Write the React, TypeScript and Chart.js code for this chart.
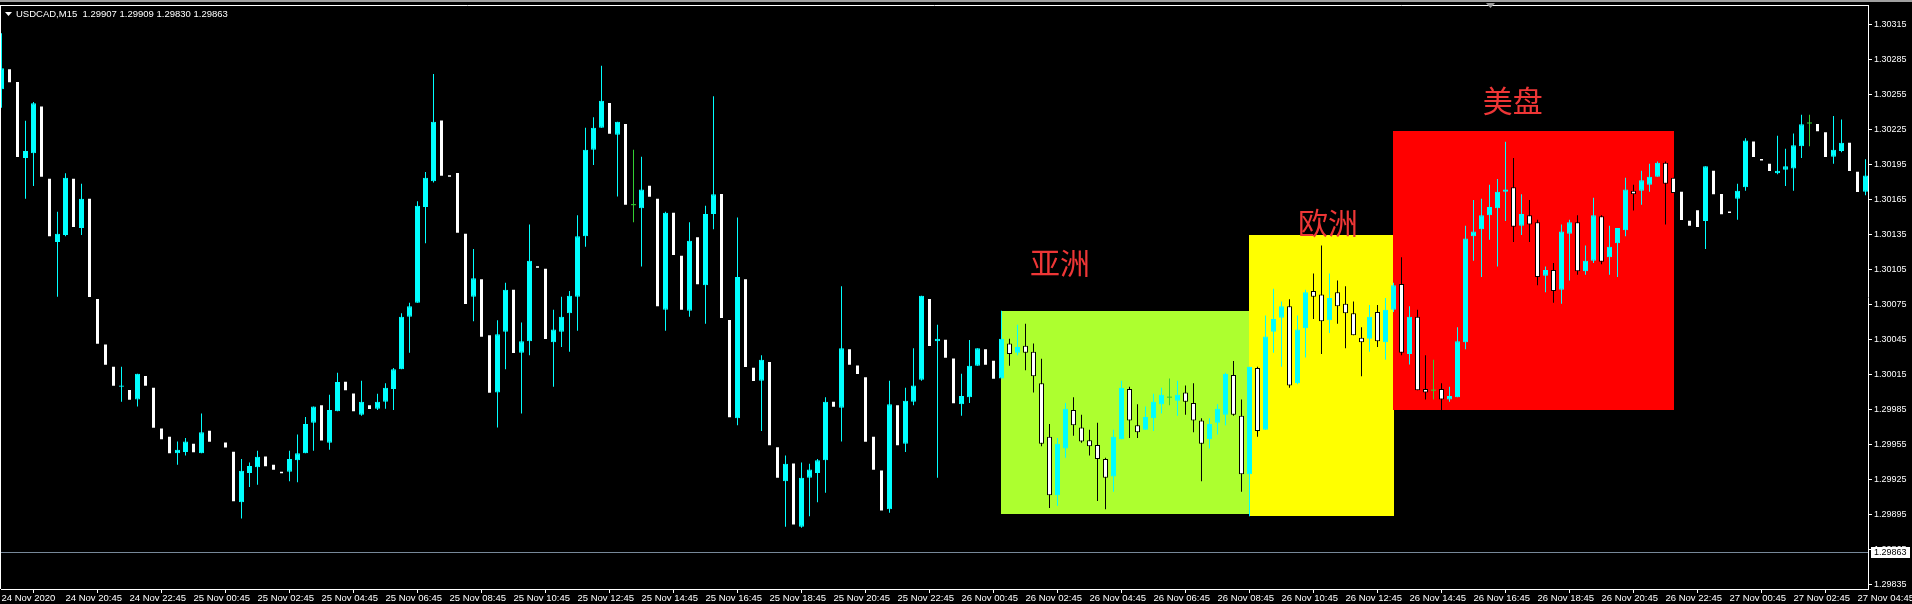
import React, { useEffect, useRef } from "react";
import { Chart, registerables } from "chart.js";

Chart.register(...registerables);

// ---------------- DATA ----------------
const symbol = "USDCAD,M15";
const lastBarOHLC = [1.29907, 1.29909, 1.2983, 1.29863];
const bidPrice = 1.29863;

const opens = [
  1.30260,1.30278,1.30267,1.30201,1.30205,1.30246,1.30184,1.30129,1.30135,1.30184,
  1.30141,1.30167,1.30081,1.30042,1.30023,1.30005,1.30003,1.29994,1.30015,1.30005,
  1.29970,1.29963,1.29948,1.29949,1.29957,1.29948,1.29968,1.29957,1.29958,1.29950,
  1.29906,1.29931,1.29936,1.29946,1.29939,1.29933,1.29932,1.29942,1.29948,1.29974,
  1.29990,1.29957,1.29984,1.30010,1.30000,1.29981,1.29990,1.29986,1.29992,1.30003,
  1.30020,1.30065,1.30077,1.30159,1.30181,1.30234,1.30187,1.30189,1.30137,1.30082,
  1.30098,1.30050,1.30000,1.30052,1.30089,1.30034,1.30044,1.30109,1.30107,1.30043,
  1.30052,1.30068,1.30082,1.30134,1.30208,1.30227,1.30249,1.30221,1.30231,1.30161,
  1.30158,1.30178,1.30167,1.30071,1.30155,1.30118,1.30070,1.30134,1.30092,1.30153,
  1.30171,1.30063,1.29978,1.30098,1.30022,1.30010,1.30027,1.29954,1.29924,1.29940,
  1.29885,1.29927,1.29931,1.29942,1.29993,1.29987,1.30038,1.30024,1.30014,1.29963,
  1.29934,1.29900,1.29990,1.29956,1.29992,1.30011,1.30081,1.30044,1.30046,1.30030,
  1.29990,1.29996,1.30023,1.30038,1.30028,1.30012,1.30042,1.30034,1.30040,1.30035,
  1.30008,1.29962,1.29912,1.29952,1.29985,1.29970,1.29959,1.29955,1.29943,1.29928,
  1.29960,1.30003,1.29972,1.29968,1.29978,1.29990,1.29996,1.29993,1.30000,1.29991,
  1.29976,1.29960,1.29974,1.29981,1.30015,1.29980,1.29930,1.30021,1.29968,1.30052,
  1.30064,1.30074,1.30008,1.30055,1.30087,1.30084,1.30062,1.30086,1.30076,1.30068,
  1.30047,1.30046,1.30069,1.30043,1.30071,1.30093,1.30033,1.30065,1.30003,1.30002,
  1.30003,1.29994,1.29996,1.30043,1.30134,1.30140,1.30152,1.30158,1.30172,1.30176,
  1.30143,1.30152,1.30146,1.30100,1.30105,1.30088,1.30136,1.30146,1.30104,1.30113,
  1.30151,1.30116,1.30128,1.30139,1.30173,1.30173,1.30178,1.30185,1.30197,1.30184,
  1.30173,1.30148,1.30157,1.30147,1.30191,1.30171,1.30156,1.30166,1.30176,1.30216,
  1.30201,1.30197,1.30188,1.30191,1.30192,1.30211,1.30231,1.30231,1.30224,1.30202,
  1.30207,1.30215,1.30190,1.30172,
];

const highs = [
  1.30308,1.30278,1.30267,1.30233,1.30249,1.30246,1.30184,1.30155,1.30188,1.30184,
  1.30179,1.30167,1.30081,1.30042,1.30023,1.30022,1.30003,1.30016,1.30015,1.30005,
  1.29970,1.29963,1.29958,1.29961,1.29957,1.29982,1.29968,1.29957,1.29958,1.29950,
  1.29943,1.29940,1.29950,1.29946,1.29939,1.29933,1.29950,1.29964,1.29979,1.29988,
  1.29990,1.29998,1.30017,1.30010,1.30000,1.30010,1.29990,1.29999,1.30008,1.30021,
  1.30068,1.30077,1.30164,1.30189,1.30273,1.30234,1.30187,1.30189,1.30137,1.30123,
  1.30098,1.30050,1.30062,1.30094,1.30089,1.30060,1.30144,1.30109,1.30107,1.30071,
  1.30082,1.30087,1.30152,1.30227,1.30236,1.30280,1.30249,1.30232,1.30231,1.30208,
  1.30202,1.30178,1.30167,1.30155,1.30155,1.30118,1.30146,1.30134,1.30160,1.30254,
  1.30171,1.30063,1.30150,1.30098,1.30022,1.30032,1.30027,1.29954,1.29946,1.29940,
  1.29940,1.29939,1.29943,1.29996,1.29993,1.30091,1.30038,1.30024,1.30014,1.29963,
  1.29934,1.30010,1.29990,1.30004,1.30038,1.30083,1.30081,1.30058,1.30046,1.30030,
  1.30016,1.30045,1.30038,1.30038,1.30028,1.30070,1.30046,1.30058,1.30059,1.30042,
  1.30029,1.29973,1.29961,1.29991,1.29996,1.29981,1.29968,1.29974,1.29944,1.29968,
  1.30010,1.30005,1.29990,1.29988,1.29999,1.30004,1.30012,1.30010,1.30006,1.30008,
  1.29978,1.29978,1.29990,1.30017,1.30027,1.29994,1.30022,1.30022,1.30066,1.30089,
  1.30078,1.30080,1.30066,1.30088,1.30102,1.30126,1.30102,1.30096,1.30091,1.30078,
  1.30056,1.30075,1.30075,1.30081,1.30094,1.30116,1.30074,1.30071,1.30032,1.30028,
  1.30008,1.30005,1.30056,1.30143,1.30165,1.30166,1.30178,1.30183,1.30215,1.30201,
  1.30170,1.30165,1.30148,1.30108,1.30111,1.30144,1.30148,1.30152,1.30126,1.30167,
  1.30152,1.30143,1.30141,1.30184,1.30178,1.30190,1.30196,1.30198,1.30198,1.30184,
  1.30173,1.30148,1.30157,1.30194,1.30191,1.30171,1.30156,1.30179,1.30218,1.30216,
  1.30201,1.30197,1.30220,1.30209,1.30222,1.30238,1.30238,1.30231,1.30224,1.30237,
  1.30234,1.30215,1.30190,1.30200,
];

const lows = [
  1.30244,1.30265,1.30201,1.30166,1.30177,1.30184,1.30133,1.30082,1.30134,1.30141,
  1.30135,1.30081,1.30041,1.30023,1.30005,1.29992,1.29993,1.29988,1.30005,1.29969,
  1.29959,1.29947,1.29938,1.29946,1.29948,1.29948,1.29957,1.29956,1.29952,1.29906,
  1.29892,1.29919,1.29921,1.29936,1.29933,1.29930,1.29924,1.29923,1.29948,1.29950,
  1.29958,1.29951,1.29984,1.30001,1.29983,1.29980,1.29985,1.29985,1.29986,1.29985,
  1.30020,1.30034,1.30077,1.30128,1.30180,1.30185,1.30184,1.30136,1.30075,1.30061,
  1.30047,1.29999,1.29970,1.30020,1.30033,1.29982,1.30032,1.30106,1.30045,1.30005,
  1.30039,1.30035,1.30053,1.30125,1.30195,1.30227,1.30221,1.30168,1.30160,1.30146,
  1.30108,1.30167,1.30073,1.30053,1.30117,1.30070,1.30065,1.30092,1.30059,1.30140,
  1.30063,1.29978,1.29972,1.30021,1.30009,1.29967,1.29954,1.29926,1.29885,1.29886,
  1.29884,1.29894,1.29906,1.29914,1.29987,1.29958,1.30023,1.30015,1.29957,1.29933,
  1.29898,1.29897,1.29954,1.29949,1.29989,1.30010,1.30039,1.29927,1.30029,1.29990,
  1.29980,1.29991,1.30023,1.30023,1.30011,1.30012,1.30023,1.30032,1.30019,1.30000,
  1.29954,1.29901,1.29903,1.29944,1.29963,1.29957,1.29946,1.29907,1.29900,1.29915,
  1.29960,1.29961,1.29961,1.29968,1.29967,1.29982,1.29989,1.29980,1.29981,1.29966,
  1.29924,1.29952,1.29964,1.29972,1.29980,1.29915,1.29894,1.29962,1.29968,1.30034,
  1.30022,1.30004,1.30007,1.30030,1.30063,1.30033,1.30051,1.30059,1.30038,1.30049,
  1.30014,1.30035,1.30039,1.30028,1.30069,1.30032,1.30024,1.30002,1.29994,1.29994,
  1.29985,1.29992,1.29996,1.30037,1.30113,1.30099,1.30131,1.30108,1.30147,1.30129,
  1.30135,1.30129,1.30092,1.30086,1.30077,1.30076,1.30096,1.30101,1.30101,1.30111,
  1.30110,1.30101,1.30099,1.30134,1.30156,1.30161,1.30172,1.30185,1.30144,1.30171,
  1.30147,1.30142,1.30141,1.30123,1.30169,1.30152,1.30153,1.30148,1.30173,1.30201,
  1.30198,1.30189,1.30187,1.30177,1.30173,1.30201,1.30211,1.30223,1.30201,1.30196,
  1.30206,1.30189,1.30171,1.30169,
];

const closes = [
  1.30278,1.30265,1.30201,1.30207,1.30248,1.30184,1.30133,1.30136,1.30184,1.30141,
  1.30166,1.30081,1.30041,1.30023,1.30005,1.30006,1.29993,1.30016,1.30005,1.29969,
  1.29959,1.29947,1.29951,1.29958,1.29948,1.29966,1.29957,1.29956,1.29952,1.29906,
  1.29933,1.29937,1.29945,1.29936,1.29933,1.29930,1.29943,1.29948,1.29973,1.29988,
  1.29958,1.29985,1.30009,1.30001,1.29983,1.29992,1.29985,1.29992,1.30004,1.30020,
  1.30065,1.30074,1.30160,1.30184,1.30232,1.30185,1.30184,1.30136,1.30075,1.30098,
  1.30047,1.29999,1.30050,1.30088,1.30033,1.30044,1.30113,1.30106,1.30045,1.30054,
  1.30065,1.30083,1.30134,1.30208,1.30227,1.30250,1.30221,1.30232,1.30160,1.30161,
  1.30174,1.30167,1.30073,1.30154,1.30117,1.30070,1.30130,1.30092,1.30153,1.30170,
  1.30063,1.29978,1.30099,1.30021,1.30009,1.30028,1.29954,1.29926,1.29939,1.29886,
  1.29927,1.29934,1.29942,1.29992,1.29987,1.30038,1.30023,1.30015,1.29957,1.29933,
  1.29898,1.29990,1.29954,1.29993,1.30006,1.30083,1.30039,1.30046,1.30029,1.29990,
  1.29997,1.30023,1.30038,1.30023,1.30011,1.30046,1.30033,1.30039,1.30034,1.30014,
  1.29956,1.29912,1.29956,1.29986,1.29972,1.29958,1.29954,1.29943,1.29927,1.29962,
  1.30004,1.29976,1.29966,1.29979,1.29992,1.29998,1.29996,1.29998,1.29992,1.29976,
  1.29956,1.29973,1.29986,1.30016,1.29981,1.29930,1.30022,1.29967,1.30048,1.30063,
  1.30074,1.30006,1.30054,1.30086,1.30082,1.30061,1.30081,1.30074,1.30068,1.30049,
  1.30043,1.30065,1.30044,1.30071,1.30092,1.30034,1.30065,1.30002,1.30000,1.30002,
  1.29994,1.29997,1.30044,1.30132,1.30138,1.30152,1.30159,1.30172,1.30174,1.30142,
  1.30153,1.30144,1.30099,1.30105,1.30087,1.30138,1.30146,1.30104,1.30113,1.30152,
  1.30112,1.30125,1.30141,1.30174,1.30170,1.30182,1.30185,1.30197,1.30179,1.30171,
  1.30147,1.30142,1.30141,1.30194,1.30169,1.30152,1.30153,1.30173,1.30216,1.30201,
  1.30198,1.30189,1.30190,1.30194,1.30212,1.30230,1.30231,1.30223,1.30201,1.30208,
  1.30214,1.30189,1.30171,1.30186,
];

const timeTickIndex = [
  0, 8, 16, 24, 32, 40, 48, 56, 64, 72, 80, 88, 96, 104, 112,
  120, 128, 136, 144, 152, 160, 168, 176, 184, 192, 200, 208, 216, 224, 232,
];
const timeTickLabels = [
  "24 Nov 2020", "24 Nov 20:45", "24 Nov 22:45", "25 Nov 00:45", "25 Nov 02:45",
  "25 Nov 04:45", "25 Nov 06:45", "25 Nov 08:45", "25 Nov 10:45", "25 Nov 12:45",
  "25 Nov 14:45", "25 Nov 16:45", "25 Nov 18:45", "25 Nov 20:45", "25 Nov 22:45",
  "26 Nov 00:45", "26 Nov 02:45", "26 Nov 04:45", "26 Nov 06:45", "26 Nov 08:45",
  "26 Nov 10:45", "26 Nov 12:45", "26 Nov 14:45", "26 Nov 16:45", "26 Nov 18:45",
  "26 Nov 20:45", "26 Nov 22:45", "27 Nov 00:45", "27 Nov 02:45", "27 Nov 04:45",
];
const priceTicks = [
  1.29835, 1.29865, 1.29895, 1.29925, 1.29955, 1.29985, 1.30015, 1.30045, 1.30075,
  1.30105, 1.30135, 1.30165, 1.30195, 1.30225, 1.30255, 1.30285, 1.30315,
];

const sessionNames = ["亚洲", "欧洲", "美盘"];
const sessionStart = [125, 156, 174];
const sessionEnd = [156, 174, 209];
const sessionTop = [1.3007, 1.30135, 1.30224];
const sessionBottom = [1.29896, 1.29894, 1.29985];
const sessionLabelIndex = [132.3, 165.8, 188.9];
const sessionLabelPrice = [1.30111, 1.30146, 1.3025];

// ---------------- STYLE ----------------
const X_MIN = -0.0625;
const X_MAX = 233.3125;
const Y_MIN = 1.2983157;
const Y_MAX = 1.3033214;
const CYAN = "#00FFFF";
const WHITE = "#FFFFFF";
const BLACK = "#000000";
const DOJI = "#32CD32";
const SESSION_COLORS = ["#ADFF2F", "#FFFF00", "#FF0000"];
const LABEL_COLOR = "#EE3636";
const UI_FONT = "'Liberation Sans', Arial, sans-serif";
const DOJI_HALF = 0.0000045;

const mt4Plugin = {
  id: "mt4",
  beforeDraw(chart: any) {
    const ctx = chart.ctx;
    ctx.save();
    ctx.fillStyle = BLACK;
    ctx.fillRect(0, 0, chart.width, chart.height);
    ctx.restore();
  },
  beforeDatasetsDraw(chart: any) {
    const { ctx, scales } = chart;
    const xs = scales.x;
    const ys = scales.y;
    ctx.save();
    for (let k = 0; k < sessionNames.length; k++) {
      const x0 = Math.floor(xs.getPixelForValue(sessionStart[k]));
      const x1 = Math.floor(xs.getPixelForValue(sessionEnd[k]));
      const y0 = Math.round(ys.getPixelForValue(sessionTop[k]));
      const y1 = Math.round(ys.getPixelForValue(sessionBottom[k]));
      ctx.fillStyle = SESSION_COLORS[k];
      ctx.fillRect(x0, y0, x1 - x0 + 1, y1 - y0);
    }
    ctx.restore();
  },
  afterDatasetsDraw(chart: any) {
    const { ctx, scales, chartArea } = chart;
    const xs = scales.x;
    const ys = scales.y;
    ctx.save();
    // bid line
    const yb = Math.round(ys.getPixelForValue(bidPrice)) + 0.5;
    ctx.strokeStyle = "#778899";
    ctx.lineWidth = 1;
    ctx.beginPath();
    ctx.moveTo(0, yb);
    ctx.lineTo(chartArea.right, yb);
    ctx.stroke();
    // session labels
    ctx.fillStyle = LABEL_COLOR;
    ctx.font = "30px 'Noto Sans CJK SC', sans-serif";
    ctx.textAlign = "center";
    ctx.textBaseline = "middle";
    for (let k = 0; k < sessionNames.length; k++) {
      ctx.fillText(
        sessionNames[k],
        xs.getPixelForValue(sessionLabelIndex[k]),
        ys.getPixelForValue(sessionLabelPrice[k])
      );
    }
    ctx.restore();
  },
  afterDraw(chart: any) {
    const { ctx, scales, chartArea } = chart;
    const ys = scales.y;
    ctx.save();
    // window top strip
    ctx.fillStyle = "#a0a0a0";
    ctx.fillRect(0, 0, chart.width, 2);
    // frame top & left
    ctx.strokeStyle = WHITE;
    ctx.lineWidth = 1;
    ctx.beginPath();
    ctx.moveTo(0, chartArea.top + 0.5);
    ctx.lineTo(chartArea.right + 1, chartArea.top + 0.5);
    ctx.moveTo(0.5, chartArea.top);
    ctx.lineTo(0.5, chartArea.bottom);
    ctx.stroke();
    // shift marker
    ctx.fillStyle = "#9a9a9a";
    ctx.beginPath();
    ctx.moveTo(1486, 3);
    ctx.lineTo(1495, 3);
    ctx.lineTo(1490.5, 8);
    ctx.closePath();
    ctx.fill();
    // header
    ctx.fillStyle = WHITE;
    ctx.beginPath();
    ctx.moveTo(5, 12);
    ctx.lineTo(12, 12);
    ctx.lineTo(8.5, 16);
    ctx.closePath();
    ctx.fill();
    ctx.font = `9.5px ${UI_FONT}`;
    ctx.textAlign = "left";
    ctx.textBaseline = "middle";
    ctx.fillText(
      `${symbol}  ${lastBarOHLC.map((v) => v.toFixed(5)).join(" ")}`,
      16,
      14
    );
    // bid label
    const yb = Math.round(ys.getPixelForValue(bidPrice));
    ctx.fillStyle = WHITE;
    ctx.fillRect(1871, yb - 5, 39, 11);
    ctx.fillStyle = BLACK;
    ctx.font = `9px ${UI_FONT}`;
    ctx.fillText(bidPrice.toFixed(5), 1874, yb + 0.5);
    ctx.restore();
  },
};

export default function App() {
  const ref = useRef<HTMLCanvasElement>(null);

  useEffect(() => {
    const idx = opens.map((_, i) => i);
    const kind = idx.map((i) =>
      closes[i] > opens[i] ? "up" : closes[i] < opens[i] ? "down" : "doji"
    );
    const chart = new Chart(ref.current as HTMLCanvasElement, {
      type: "bar",
      data: {
        datasets: [
          {
            label: "body",
            order: 0,
            data: idx.map((i) => ({
              x: i,
              y:
                kind[i] === "doji"
                  ? [opens[i] - DOJI_HALF, opens[i] + DOJI_HALF]
                  : [opens[i], closes[i]],
            })) as any,
            backgroundColor: kind.map((k) => (k === "up" ? CYAN : k === "down" ? WHITE : DOJI)),
            borderColor: kind.map((k) => (k === "up" ? CYAN : k === "down" ? BLACK : DOJI)),
            borderWidth: kind.map((k) => (k === "doji" ? 0 : 1)),
            borderSkipped: false,
            barThickness: 5,
            grouped: false,
            inflateAmount: 0,
            clip: 0,
          } as any,
          {
            label: "wick",
            order: 1,
            data: idx.map((i) => ({ x: i, y: [lows[i], highs[i]] })) as any,
            backgroundColor: kind.map((k) => (k === "up" ? CYAN : k === "down" ? BLACK : DOJI)),
            borderWidth: 0,
            barThickness: 1,
            grouped: false,
            inflateAmount: 0,
            clip: 0,
          } as any,
        ],
      },
      options: {
        responsive: false,
        maintainAspectRatio: false,
        devicePixelRatio: 1,
        animation: false,
        events: [],
        layout: { padding: { top: 5, left: 1, right: 0, bottom: 0 } },
        plugins: {
          legend: { display: false },
          tooltip: { enabled: false },
        },
        scales: {
          x: {
            type: "linear",
            min: X_MIN,
            max: X_MAX,
            bounds: "data",
            offset: false,
            afterBuildTicks: (s: any) => {
              s.ticks = timeTickIndex.map((v) => ({ value: v }));
            },
            afterFit: (s: any) => {
              s.height = 15;
              s.paddingLeft = 0;
              s.paddingRight = 0;
            },
            ticks: {
              autoSkip: false,
              maxRotation: 0,
              minRotation: 0,
              align: "start",
              padding: 0,
              color: WHITE,
              font: { family: UI_FONT, size: 9.5 },
              callback: (_v: any, i: number) => timeTickLabels[i],
            },
            grid: {
              drawOnChartArea: false,
              drawTicks: true,
              tickLength: 4,
              tickColor: WHITE,
              color: WHITE,
            },
            border: { display: true, color: WHITE, width: 1 },
          } as any,
          y: {
            type: "linear",
            position: "right",
            min: Y_MIN,
            max: Y_MAX,
            bounds: "data",
            afterBuildTicks: (s: any) => {
              s.ticks = priceTicks.map((v) => ({ value: v }));
            },
            afterFit: (s: any) => {
              s.width = 44;
              s.paddingTop = 0;
              s.paddingBottom = 0;
            },
            ticks: {
              autoSkip: false,
              padding: 2,
              color: WHITE,
              font: { family: UI_FONT, size: 9 },
              callback: (v: any) => Number(v).toFixed(5),
            },
            grid: {
              drawOnChartArea: false,
              drawTicks: true,
              tickLength: 4,
              tickColor: WHITE,
              color: WHITE,
            },
            border: { display: true, color: WHITE, width: 1 },
          } as any,
        },
      },
      plugins: [mt4Plugin],
    } as any);
    return () => chart.destroy();
  }, []);

  return (
    <div
      style={{
        position: "fixed",
        left: 0,
        top: 0,
        width: 1912,
        height: 604,
        background: "#000",
      }}
    >
      <canvas
        ref={ref}
        width={1912}
        height={604}
        style={{ display: "block", width: 1912, height: 604 }}
      />
    </div>
  );
}
